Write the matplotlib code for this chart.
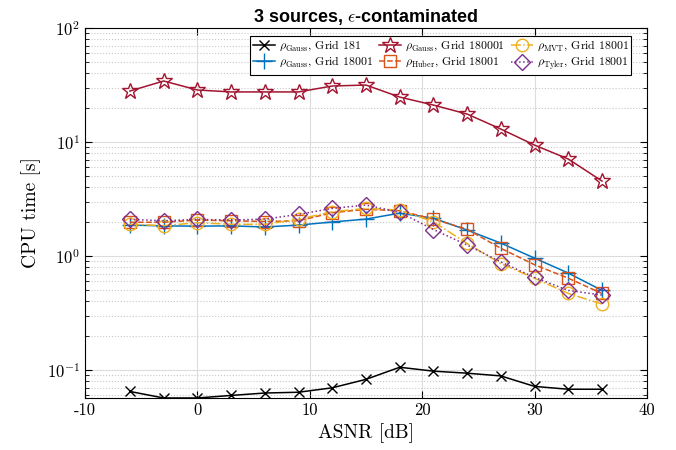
import numpy as np
import matplotlib
matplotlib.use("Agg")
import matplotlib.pyplot as plt
from matplotlib.ticker import LogLocator, NullFormatter

plt.rcParams['font.family'] = 'serif'
plt.rcParams['font.serif'] = ['cmr10']
plt.rcParams['mathtext.fontset'] = 'cm'
plt.rcParams['axes.formatter.use_mathtext'] = True
plt.rcParams['axes.unicode_minus'] = False

asnr = [-6, -3, 0, 3, 6, 9, 12, 15, 18, 21, 24, 27, 30, 33, 36]

gauss_181 = [0.065, 0.057, 0.057, 0.060, 0.063, 0.064, 0.070, 0.083, 0.106, 0.098,
             0.094, 0.089, 0.072, 0.068, 0.068]
gauss_18001 = [1.87, 1.84, 1.83, 1.84, 1.80, 1.87, 1.99, 2.11, 2.38, 2.15,
               1.69, 1.30, 0.96, 0.71, 0.50]
gauss_180001 = [28.0, 34.3, 28.6, 27.5, 27.5, 27.5, 31.0, 31.6, 24.8, 21.1,
                17.6, 13.0, 9.4, 7.1, 4.55]
huber_18001 = [1.98, 1.98, 2.07, 2.04, 2.01, 2.04, 2.40, 2.57, 2.50, 2.11,
               1.72, 1.17, 0.84, 0.64, 0.47]
mvt_18001 = [1.90, 1.85, 1.96, 1.90, 1.90, 2.10, 2.45, 2.62, 2.53, 2.00,
             1.29, 0.86, 0.64, 0.47, 0.38]
tyler_18001 = [2.10, 2.04, 2.10, 2.07, 2.11, 2.32, 2.62, 2.80, 2.42, 1.71,
               1.25, 0.89, 0.65, 0.50, 0.455]

series = [
    (gauss_181, r'$\rho_{\mathrm{Gauss}}$, Grid 181', 'k', '-', 'x', 7),
    (gauss_18001, r'$\rho_{\mathrm{Gauss}}$, Grid 18001', '#0072BD', '-', '+', 11),
    (gauss_180001, r'$\rho_{\mathrm{Gauss}}$, Grid 180001', '#A2142F', '-', '*', 12),
    (huber_18001, r'$\rho_{\mathrm{Huber}}$, Grid 18001', '#D95319', '--', 's', 9),
    (mvt_18001, r'$\rho_{\mathrm{MVT}}$, Grid 18001', '#EDB120', '-.', 'o', 9),
    (tyler_18001, r'$\rho_{\mathrm{Tyler}}$, Grid 18001', '#7E2F8E', ':', 'D', 8),
]

fig = plt.figure(figsize=(6.76, 4.5), dpi=100)
ax = fig.add_axes([0.1257, 0.1156, 0.8313, 0.8222])

for vals, lab, col, ls, mk, ms in series:
    ax.plot(asnr, vals, color=col, linestyle=ls, marker=mk, markersize=ms,
            markerfacecolor='none', markeredgewidth=1.0, linewidth=1.1, label=lab)

ax.set_yscale('log')
ax.set_xlim(-10, 40)
ax.set_ylim(0.057, 100)
ax.set_xticks([-10, 0, 10, 20, 30, 40])
ax.set_xticklabels(['-10', '0', '10', '20', '30', '40'])
ax.yaxis.set_minor_locator(LogLocator(base=10, subs=np.arange(2, 10), numticks=20))
ax.yaxis.set_minor_formatter(NullFormatter())

ax.grid(True, which='major', color='#dcdcdc', linewidth=0.8)
ax.grid(True, which='minor', axis='y', color='#c8c8c8', linestyle=':', linewidth=0.8)
ax.set_axisbelow(True)
ax.tick_params(which='both', direction='in', top=True, right=True, labelsize=12)
ax.tick_params(which='major', length=5)
ax.tick_params(which='minor', length=3)
for s in ax.spines.values():
    s.set_linewidth(0.8)

ax.set_xlabel('ASNR [dB]', fontsize=14)
ax.set_ylabel('CPU time [s]', fontsize=14)
ax.set_title(r'3 sources, $\epsilon$-contaminated', fontsize=13, fontweight='bold',
             family='Liberation Sans', pad=4)

leg = ax.legend(loc='upper right', ncol=3, fontsize=8.5, frameon=True, fancybox=False,
                edgecolor='k', framealpha=1, handlelength=1.9, handletextpad=0.3,
                columnspacing=0.5, borderpad=0.25, labelspacing=0.15,
                bbox_to_anchor=(0.983, 0.995))
leg.get_frame().set_linewidth(0.8)

plt.savefig('out.png', dpi=100)
